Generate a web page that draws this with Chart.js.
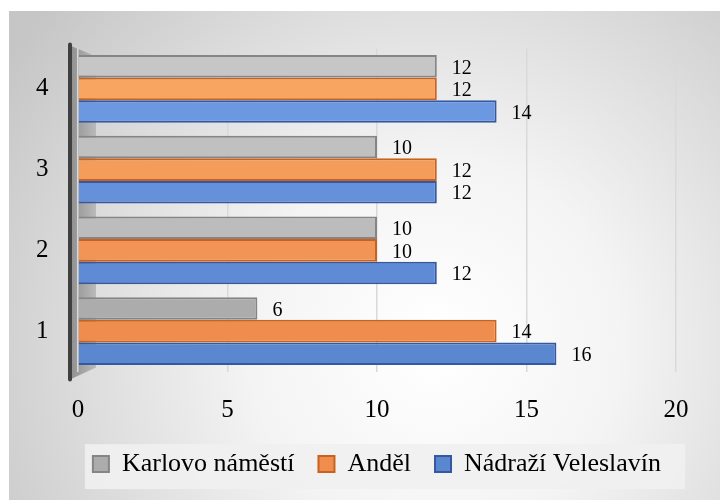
<!DOCTYPE html>
<html>
<head>
<meta charset="utf-8">
<script src="https://cdn.jsdelivr.net/npm/chart.js@4/dist/chart.umd.min.js"></script>
<style>
html,body{margin:0;padding:0;background:#fff;width:720px;height:500px;overflow:hidden;}
#wrap{position:absolute;left:9px;top:11px;width:711px;height:489px;}
</style>
</head>
<body>
<div id="wrap"><canvas id="c"></canvas></div>
<script>
// ---- data ----
const categories = ['1', '2', '3', '4'];
const seriesNames = ['Karlovo náměstí', 'Anděl', 'Nádraží Veleslavín'];
const karlovoValues = [6, 10, 10, 12];
const andelValues = [14, 10, 12, 12];
const veleslavinValues = [16, 12, 12, 14];
const xTicks = [0, 5, 10, 15, 20];

const SERIF = '"Liberation Serif", "Times New Roman", serif';
const LEGEND_FONT = 26;
const LEGEND_PAD = 24;
const LEGEND_H = 63;
const LEGEND_SHIFT = 21;

const legendFitPlugin = {
  id: 'legendFit',
  afterInit(chart) {
    const lg = chart.legend;
    if (!lg || lg._patched) return;
    const orig = lg.fit.bind(lg);
    lg.fit = function () { orig(); this.height = LEGEND_H; };
    lg._patched = true;
  },
  afterLayout(chart) {
    const lg = chart.legend;
    if (!lg) return;
    lg.left += LEGEND_SHIFT;
    lg.right += LEGEND_SHIFT;
    if (lg.adjustHitBoxes) lg.adjustHitBoxes();
  }
};

const bgPlugin = {
  id: 'bg',
  beforeDraw(chart) {
    const {ctx, width, height, chartArea: a} = chart;
    ctx.save();
    const g = ctx.createRadialGradient(width * 0.6, height * 0.68, 10, width * 0.6, height * 0.68, width * 0.72);
    g.addColorStop(0, '#ffffff');
    g.addColorStop(0.35, '#f4f4f4');
    g.addColorStop(1, '#c6c6c6');
    ctx.fillStyle = g;
    ctx.fillRect(0, 0, width, height);
    // left wall
    const lx = a.left - 8;
    const wg = ctx.createLinearGradient(lx, 0, a.left + 20, 0);
    wg.addColorStop(0, '#8f8f8f');
    wg.addColorStop(1, '#bdbdbd');
    ctx.fillStyle = wg;
    ctx.beginPath();
    ctx.moveTo(lx, a.top - 3);
    ctx.lineTo(a.left + 18, a.top + 8);
    ctx.lineTo(a.left + 18, a.bottom - 4);
    ctx.lineTo(lx, a.bottom + 8);
    ctx.closePath();
    ctx.fill();
    ctx.strokeStyle = '#404040';
    ctx.lineWidth = 4;
    ctx.lineCap = 'round';
    ctx.beginPath();
    ctx.moveTo(lx, a.top - 4);
    ctx.lineTo(lx, a.bottom + 8);
    ctx.stroke();
    // legend background
    const lg = chart.legend;
    if (lg && lg.legendHitBoxes && lg.legendHitBoxes.length) {
      const hb = lg.legendHitBoxes;
      const l = Math.min(...hb.map(b => b.left)) - 8;
      const r = Math.max(...hb.map(b => b.left + b.width)) + 24;
      const cy = lg.top + LEGEND_PAD + LEGEND_FONT * 1.2 / 2;
      ctx.fillStyle = 'rgba(240,240,240,0.92)';
      ctx.fillRect(l, cy - 22.5, r - l, 45);
    }
    ctx.restore();
  }
};

const labelPlugin = {
  id: 'vlabels',
  afterDatasetsDraw(chart) {
    const {ctx} = chart;
    ctx.save();
    ctx.font = '20px ' + SERIF;
    ctx.fillStyle = '#000';
    ctx.textAlign = 'left';
    ctx.textBaseline = 'middle';
    chart.data.datasets.forEach((ds, i) => {
      const meta = chart.getDatasetMeta(i);
      meta.data.forEach((el, j) => {
        ctx.fillText(String(ds.data[j]), el.x + 15, el.y + 2);
      });
    });
    ctx.restore();
  }
};

new Chart(document.getElementById('c'), {
  type: 'bar',
  data: {
    labels: categories,
    datasets: [
      {
        label: seriesNames[0], data: karlovoValues,
        backgroundColor: ['#acacac', '#bcbcbc', '#c0c0c0', '#c6c6c6'],
        borderColor: '#858585', borderWidth: 2
      },
      {
        label: seriesNames[1], data: andelValues,
        backgroundColor: ['#ef8d4f', '#f29455', '#f49c5a', '#f8a562'],
        borderColor: '#c8621e', borderWidth: 2
      },
      {
        label: seriesNames[2], data: veleslavinValues,
        backgroundColor: ['#5b87d0', '#5f8bd6', '#6591db', '#6c98e2'],
        borderColor: '#3559a0', borderWidth: 2
      }
    ]
  },
  options: {
    indexAxis: 'y',
    responsive: true,
    maintainAspectRatio: false,
    animation: false,
    categoryPercentage: 0.84,
    barPercentage: 1.0,
    layout: {padding: {left: 27, right: 44, top: 37.5, bottom: 10}},
    scales: {
      x: {
        min: 0, max: 20,
        afterBuildTicks(scale) { scale.ticks = xTicks.map(v => ({value: v})); },
        afterFit(scale) { scale.height = 55.5; },
        grid: {color: '#d9d9d9', lineWidth: 1.5, drawTicks: false},
        border: {display: false},
        ticks: {font: {family: SERIF, size: 25}, color: '#000', padding: 24}
      },
      y: {
        reverse: true,
        afterFit(scale) { scale.width = 42; },
        grid: {display: false, drawTicks: false},
        border: {display: false},
        ticks: {font: {family: SERIF, size: 25}, color: '#000', padding: 0, crossAlign: 'far'}
      }
    },
    plugins: {
      legend: {
        position: 'bottom',
        labels: {
          font: {family: SERIF, size: LEGEND_FONT},
          color: '#000',
          boxWidth: 16, boxHeight: 16,
          padding: LEGEND_PAD,
          useBorderRadius: false
        }
      },
      tooltip: {enabled: false}
    }
  },
  plugins: [legendFitPlugin, bgPlugin, labelPlugin]
});
</script>
</body>
</html>
